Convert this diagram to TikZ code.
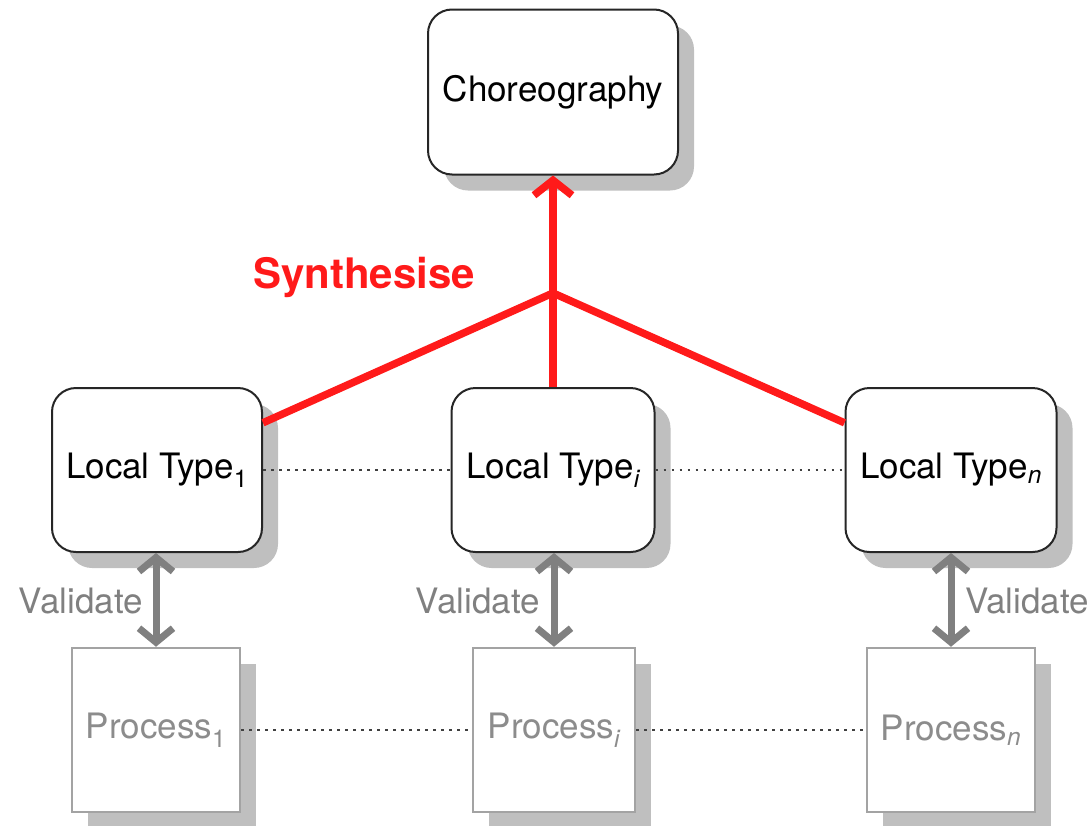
\documentclass[tikz,border=0pt]{standalone}
\usepackage{fontspec}
\setmainfont{TeX Gyre Heros}
\usetikzlibrary{shadows,arrows.meta}
\definecolor{synred}{HTML}{FF1A1A}
\definecolor{valgray}{HTML}{808080}
\definecolor{procgray}{HTML}{8C8C8C}
\definecolor{shadowgray}{HTML}{BFBFBF}
\begin{document}
\begin{tikzpicture}[x=1pt,y=-1pt,
  every node/.style={font=\fontsize{35}{40}\selectfont, inner sep=0pt},
  shadowed/.style={drop shadow={shadow xshift=16pt, shadow yshift=-16pt, fill=shadowgray, opacity=1}},
  typebox/.style={draw=black!85, line width=2pt, rounded corners=24pt, fill=white, shadowed, minimum height=164pt},
  procbox/.style={draw=procgray!80, line width=2.5pt, fill=white, shadowed, minimum height=164pt, text=procgray},
  synline/.style={draw=synred, line width=7.5pt, line join=round},
  valarrow/.style={draw=valgray, line width=7pt, {Straight Barb[length=14pt,width=34pt]}-{Straight Barb[length=14pt,width=34pt]}},
  link/.style={draw=black!75, line width=2.5pt, dash pattern=on 2.5pt off 5.5pt},
  vallabel/.style={text=valgray}
]
\useasboundingbox (0,0) rectangle (1092,825);

\node[typebox, minimum width=250pt, minimum height=165pt] (ch) at (553,92) {Choreography};

\node[typebox, minimum width=210pt] (lt1) at (157,470) {Local Type\textsubscript{1}};
\node[typebox, minimum width=203pt] (lti) at (553,470) {Local Type\textsubscript{\itshape i}};
\node[typebox, minimum width=211pt] (ltn) at (951,470) {Local Type\textsubscript{\itshape n}};

\node[procbox, minimum width=168pt] (p1) at (156,730) {Process\textsubscript{1}};
\node[procbox, minimum width=162pt] (pi) at (554,730) {Process\textsubscript{\itshape i}};
\node[procbox, minimum width=168pt] (pn) at (951,730) {Process\textsubscript{\itshape n}};

% synthesis
\coordinate (j) at (553,293);
\draw[synline] (j) -- (lt1);
\draw[synline] (j) -- (ltn);
\draw[synline] (j) -- (lti);
\draw[synline, -{Straight Barb[length=15pt,width=38pt]}] (j) -- (ch);
\node[text=synred, font=\fontsize{42}{46}\selectfont\bfseries] (syn) at (364,277) {Synthesise};

% dotted links
\draw[link] (lt1) -- (lti);
\draw[link] (lti) -- (ltn);
\draw[link] (p1) -- (pi);
\draw[link] (pi) -- (pn);

% validate
\draw[valarrow] (lt1.south -| p1.north) -- (p1.north);
\draw[valarrow] (lti.south -| pi.north) -- (pi.north);
\draw[valarrow] (ltn.south -| pn.north) -- (pn.north);
\node[vallabel, anchor=east] (v1) at (143,601) {Validate};
\node[vallabel, anchor=east] (vi) at (540,601) {Validate};
\node[vallabel, anchor=west] (vn) at (965,601) {Validate};
\end{tikzpicture}
\end{document}
